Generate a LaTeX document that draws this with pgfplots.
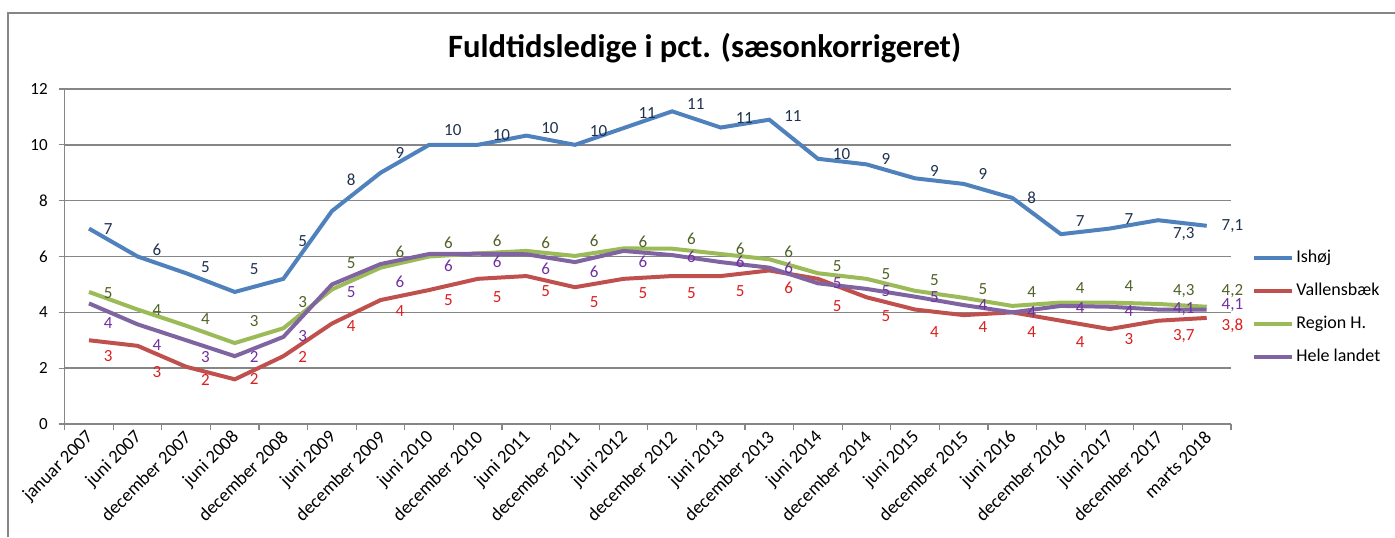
\documentclass[border=0pt]{standalone}
\usepackage{pgfplots}
\pgfplotsset{compat=1.18}
\usepackage{pgfplotstable}
\usepackage{fontspec}
\setmainfont{Carlito}

\definecolor{cIsh}{HTML}{4F81BD}
\definecolor{cVal}{HTML}{C0504D}
\definecolor{cReg}{HTML}{9BBB59}
\definecolor{cHel}{HTML}{8064A2}
\definecolor{tIsh}{RGB}{31,50,80}
\definecolor{tVal}{RGB}{220,30,30}
\definecolor{tReg}{RGB}{79,98,40}
\definecolor{tHel}{RGB}{112,48,160}
\definecolor{gridc}{RGB}{134,134,134}

% x y label dy(pt)
\pgfplotstableread{
x y lab dy
0 7.0 7 0
1 6.0 6 3.5
2 5.4 5 3.25
3 4.73 5 11.5
4 5.2 5 19
5 7.63 8 15.5
6 9.0 9 10
7 10.0 10 7.5
8 10.0 10 5
9 10.33 10 4
10 10.0 10 7
11 10.6 11 7.5
12 11.2 11 3.5
13 10.62 11 5
14 10.9 11 2
15 9.5 10 2.5
16 9.3 9 2.5
17 8.8 9 3.5
18 8.6 9 5
19 8.1 8 0
20 6.8 7 6.5
21 7.0 7 5
22 7.3 7,3 -7
23 7.1 7,1 0
}\ishoj

\pgfplotstableread{
x y lab dy
0 3.0 3 -7.75
1 2.8 3 -13.25
2 2.05 2 -6.5
3 1.6 2 0
4 2.43 2 -0.5
5 3.6 4 -1.5
6 4.44 4 -5.5
7 4.8 5 -5
8 5.2 5 -9
9 5.3 5 -7.5
10 4.9 5 -7.5
11 5.2 5 -7.25
12 5.3 5 -8.5
13 5.3 5 -7.5
14 5.5 6 -8.5
15 5.2 5 -13.5
16 4.54 5 -9.25
17 4.1 4 -11
18 3.9 4 -6
19 4.0 4 -10
20 3.7 4 -10.8
21 3.4 3 -5
22 3.7 3,7 -7.5
23 3.8 3,8 -4
}\vallensbaek

\pgfplotstableread{
x y lab dy
0 4.73 5 -0.5
1 4.1 4 0
2 3.52 4 3.5
3 2.9 3 11
4 3.43 3 13
5 4.82 5 13
6 5.6 6 8
7 6.0 6 7
8 6.11 6 6.5
9 6.2 6 4
10 6.02 6 7.5
11 6.29 6 3.5
12 6.28 6 5
13 6.09 6 2.5
14 5.9 6 3.5
15 5.4 5 3.5
16 5.2 5 2.25
17 4.77 5 5.5
18 4.52 5 4.5
19 4.23 4 6.8
20 4.35 4 7.5
21 4.35 4 8.5
22 4.3 4,3 6.5
23 4.2 4,2 7.8
}\region

\pgfplotstableread{
x y lab dy
0 4.32 4 -10
1 3.57 4 -10.5
2 3.0 3 -8.5
3 2.43 2 -0.5
4 3.12 3 0.5
5 5.0 5 -4
6 5.73 6 -9
7 6.09 6 -6
8 6.1 6 -4
9 6.08 6 -7.5
10 5.8 6 -5
11 6.2 6 -5.5
12 6.05 6 -0.8
13 5.8 6 0
14 5.6 6 0
15 5.04 5 0
16 4.84 5 -1
17 4.56 5 0
18 4.26 4 0
19 4.0 4 0
20 4.23 4 -1
21 4.2 4 -2
22 4.1 4,1 0
23 4.1 4,1 2
}\hele

\pgfplotsset{
  lab/.style={
    nodes near coords,
    point meta=explicit symbolic,
    visualization depends on={\thisrow{dy} \as \dy},
    every node near coord/.append style={anchor=west, inner sep=0pt, xshift=6.5pt, yshift=\dy*1pt, font=\fontsize{8.5}{10}\selectfont, text=#1},
  }
}

\begin{document}
\begin{tikzpicture}
\useasboundingbox (0,0) rectangle (697.5pt,268.5pt);
\draw[gridc, line width=0.6pt] (4pt,0pt) -- (4pt,262pt) -- (697.5pt,262pt);
\node[font=\bfseries\fontsize{16.3}{19}\selectfont, inner sep=0pt, anchor=base] at (352.3pt,239.6pt) {Fuldtidsledige i pct. (sæsonkorrigeret)};
\begin{axis}[
  at={(32.35pt,56.5pt)}, anchor=south west,
  scale only axis, width=583.15pt, height=167.5pt,
  xmin=-0.5, xmax=23.5, ymin=0, ymax=12,
  ytick={0,2,...,12},
  /pgf/number format/assume math mode=true,
  axis x line*=bottom, axis y line*=left,
  axis line style={gridc, line width=0.6pt},
  ymajorgrids, grid style={gridc, line width=0.75pt},
  xtick={0,...,23},
  xticklabels={januar 2007, juni 2007, december 2007, juni 2008, december 2008, juni 2009, december 2009, juni 2010, december 2010, juni 2011, december 2011, juni 2012, december 2012, juni 2013, december 2013, juni 2014, december 2014, juni 2015, december 2015, juni 2016, december 2016, juni 2017, december 2017, marts 2018},
  major x tick style={draw=none},
  minor xtick={-0.5,0.5,...,23.5},
  minor x tick style={gridc, line width=0.6pt},
  y tick style={gridc, line width=0.6pt},
  tick align=outside, major tick length=3pt, minor tick length=3pt,
  yticklabel style={font=\fontsize{8.5}{10}\selectfont, xshift=-2pt},
  xticklabel style={font=\fontsize{9.3}{11}\selectfont, rotate=45, anchor=east, xshift=2.5pt, yshift=-2pt},
  clip=false,
  legend cell align=left,
  legend style={at={(1,0.348)}, anchor=west, xshift=10.5pt, draw=none, fill=none,
    font=\fontsize{9}{11}\selectfont, row sep=5.5pt, inner sep=0pt,
    nodes={inner sep=1pt, text height=7pt, text depth=2pt}},
  legend image code/.code={\draw[#1, line width=2pt] (0pt,0pt) -- (19pt,0pt);},
]
\addplot[cIsh, line width=2pt, lab=tIsh] table[x=x, y=y, meta=lab] {\ishoj};
\addlegendentry{Ishøj}
\addplot[cVal, line width=2pt, lab=tVal] table[x=x, y=y, meta=lab] {\vallensbaek};
\addlegendentry{Vallensbæk}
\addplot[cReg, line width=2pt, lab=tReg] table[x=x, y=y, meta=lab] {\region};
\addlegendentry{Region H.}
\addplot[cHel, line width=2pt, lab=tHel] table[x=x, y=y, meta=lab] {\hele};
\addlegendentry{Hele landet}
\end{axis}
\end{tikzpicture}
\end{document}
